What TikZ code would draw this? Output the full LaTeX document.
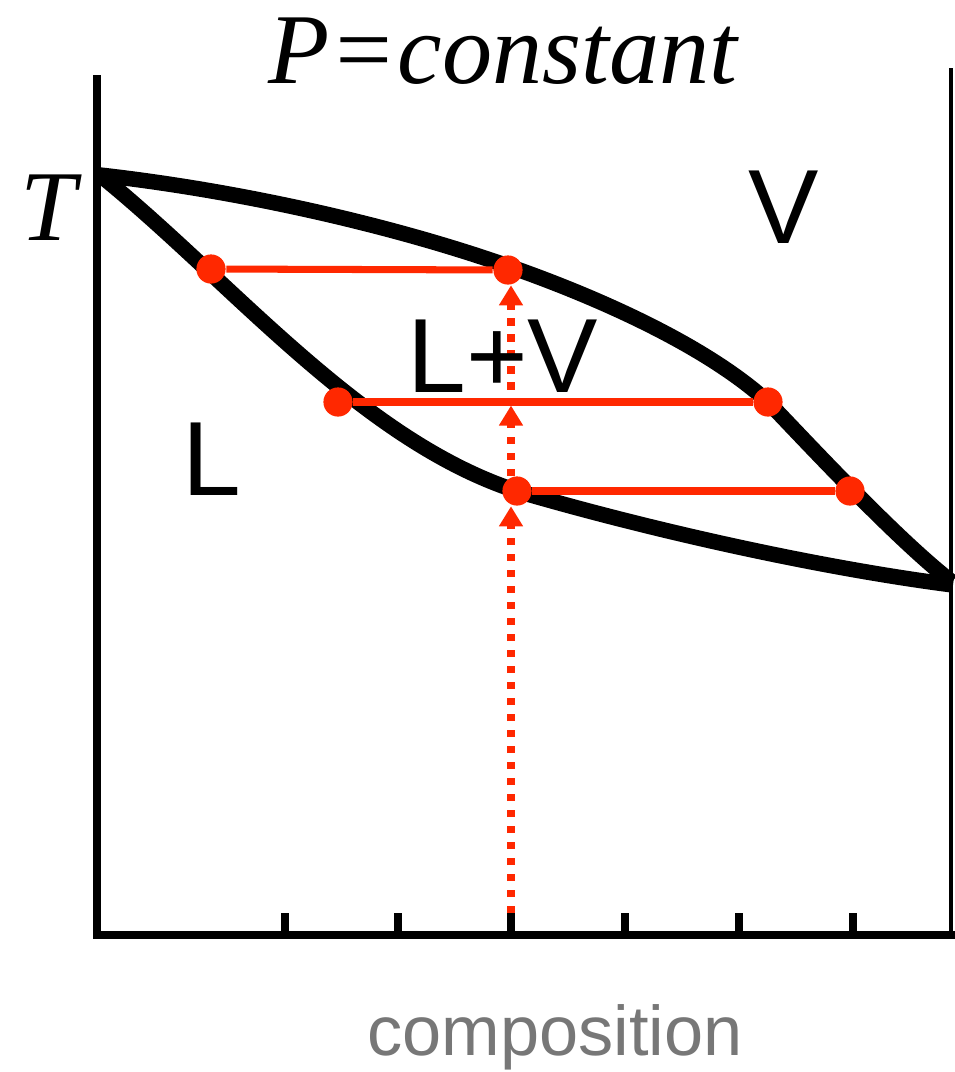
\documentclass[tikz,border=0pt]{standalone}
\usepackage{fontspec}
\setmainfont{Liberation Serif}
\setsansfont{Liberation Sans}
\usetikzlibrary{arrows.meta}
\definecolor{tie}{RGB}{255,40,0}
\definecolor{lbl}{RGB}{119,119,119}
\tikzset{
  curve/.style={line width=4.4pt, line join=round},
  axis/.style={line width=2pt},
  tickmark/.style={line width=2pt},
  dot/.style={circle, fill=tie, inner sep=0pt, minimum size=8.3pt},
  tieline/.style={tie, line width=2pt},
  flowpath/.style={tie, line width=2pt, dash pattern=on 2pt off 2.55pt, -{Triangle[width=6.5pt,length=5.7pt]}},
  region/.style={font=\sffamily\fontsize{30}{30}\selectfont, anchor=base, inner sep=0pt},
}
\begin{document}
\begin{tikzpicture}[x=0.01cm, y=-0.01cm]
\useasboundingbox (0,0) rectangle (955,1072);
% axes
\coordinate (o) at (97,935);
\coordinate (ltop) at (97,75);
\coordinate (rb) at (955,935);
\coordinate (rtop) at (951,68);
\coordinate (rbot) at (951,935);
\draw[axis] (ltop) -- (o |- rb) -- (rb);
\draw[line width=1.1pt] (rtop) -- (rbot);
\foreach \x in {285,398,511,625,739,853}
  \draw[tickmark] (\x,913) -- (\x,935);
% curves
\draw[curve] (100,175) .. controls (250,192) and (400,228) .. (508,266)
  .. controls (580,291) and (700,340) .. (768,402)
  .. controls (800,435) and (895,538) .. (952,582);
\draw[curve] (100,175) .. controls (230,280) and (360,440) .. (517,491)
  .. controls (650,530) and (820,568) .. (953,585);
% dots
\node[dot] (t1) at (211,269) {};
\node[dot] (t2) at (508,270) {};
\node[dot] (m1) at (338,402) {};
\node[dot] (m2) at (768,402) {};
\node[dot] (b1) at (517,491) {};
\node[dot] (b2) at (850,491) {};
\draw[tieline] (t1) -- (t2);
\draw[tieline] (m1) -- (m2);
\draw[tieline] (b1) -- (b2);
% dotted path
\coordinate (start) at (511,913);
\draw[flowpath] (start) -- (start |- b1.south);
\draw[flowpath] (start |- b1.north) -- ([yshift=-1pt]start |- m1);
\draw[flowpath] ([yshift=-1pt]start |- m1) -- (start |- t2.south);
% labels
\node[font=\itshape\fontsize{28.5}{28.5}\selectfont, anchor=base, inner sep=0pt] (title) at (503,83) {P=constant};
\node[font=\itshape\fontsize{28.5}{28.5}\selectfont, anchor=base, inner sep=0pt] (T) at (48,240) {T};
\node[region] (V) at (784,243) {V};
\node[region] (LV) at (503,392) {L+V};
\node[region] (L) at (212,495) {L};
\node[font=\sffamily\fontsize{20}{20}\selectfont, text=lbl, anchor=base, inner sep=0pt] (comp) at (555,1055) {composition};
\end{tikzpicture}
\end{document}
